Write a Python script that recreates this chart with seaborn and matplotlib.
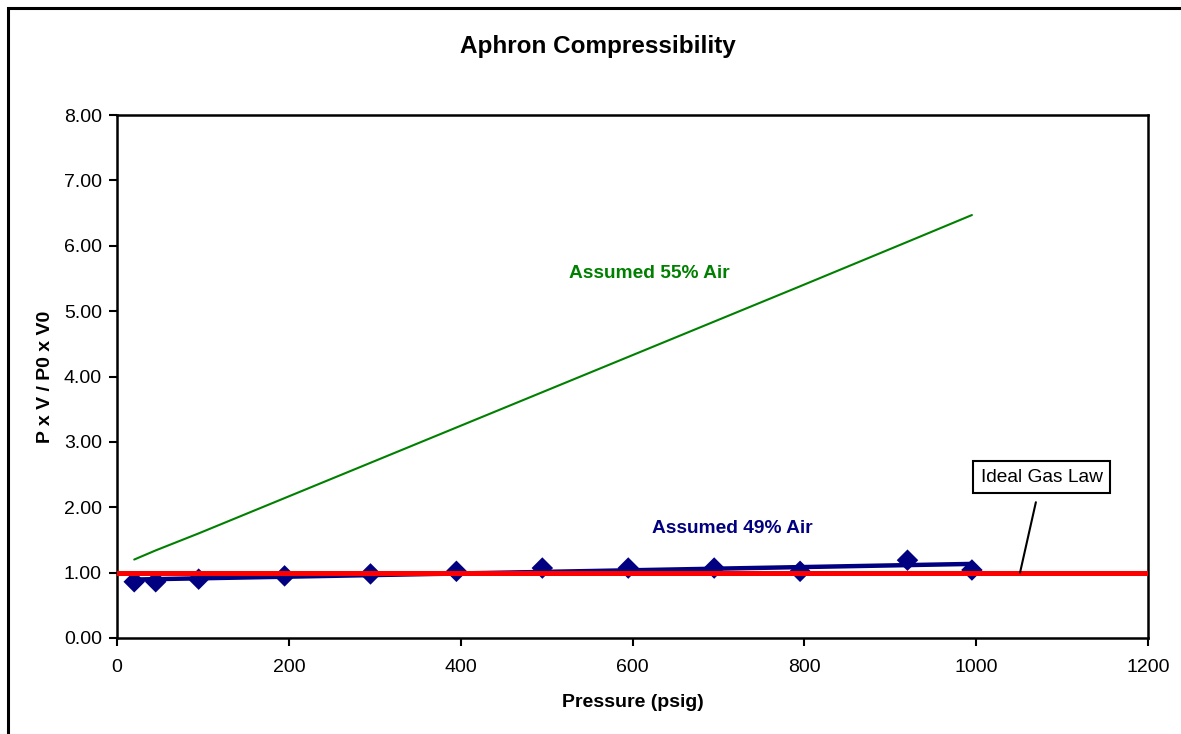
import numpy as np
import pandas as pd
import seaborn as sns
import matplotlib.pyplot as plt
from matplotlib.patches import Rectangle

# measured points (Assumed 49% Air)
pressure = [20, 45, 95, 195, 295, 395, 495, 595, 695, 795, 920, 995]
ratio_49 = [0.86, 0.86, 0.90, 0.95, 0.98, 1.02, 1.07, 1.07, 1.07, 1.02, 1.19, 1.04]

# model curve (Assumed 55% Air)
ratio_55 = [1.20, 1.34, 1.60, 2.14, 2.68, 3.22, 3.76, 4.30, 4.84, 5.38, 6.06, 6.47]

# ideal gas law reference
ideal_x = [0, 1200]
ideal_y = [1.0, 1.0]

sns.set_style("ticks")
plt.rcParams['font.family'] = ['Liberation Sans', 'DejaVu Sans']
plt.rcParams['text.color'] = 'black'
plt.rcParams['axes.labelcolor'] = 'black'
plt.rcParams['xtick.color'] = 'black'
plt.rcParams['ytick.color'] = 'black'

fig = plt.figure(figsize=(11.81, 7.34), dpi=100)
ax = fig.add_axes([0.0991, 0.1308, 0.8730, 0.7125])

df = pd.DataFrame({'pressure': pressure, 'r49': ratio_49, 'r55': ratio_55})

# green line
sns.lineplot(data=df, x='pressure', y='r55', color='#008000', linewidth=1.5, ax=ax, zorder=2)

# measured points with linear trendline
sns.regplot(data=df, x='pressure', y='r49', ci=None, truncate=True, ax=ax,
            marker='D', color='#000080',
            scatter_kws={'s': 120, 'zorder': 3, 'edgecolors': 'none', 'alpha': 1},
            line_kws={'linewidth': 3.2, 'zorder': 3})

# ideal gas law line
sns.lineplot(x=ideal_x, y=ideal_y, color='#FF0000', linewidth=3.6, ax=ax, zorder=4)

ax.set_xlim(0, 1200)
ax.set_ylim(0, 8)
ax.set_xticks(np.arange(0, 1201, 200))
ax.set_yticks(np.arange(0, 8.01, 1))
ax.set_yticklabels([f"{v:.2f}" for v in np.arange(0, 8.01, 1)])
ax.tick_params(axis='both', labelsize=14, length=6, width=1.5, direction='out', colors='black')
ax.tick_params(axis='x', pad=9)
ax.tick_params(axis='y', pad=5)
for s in ax.spines.values():
    s.set_visible(True)
    s.set_linewidth(1.8)
    s.set_color('black')

ax.set_xlabel('Pressure (psig)', fontsize=14, fontweight='bold')
ax.set_ylabel('P x V / P0 x V0', fontsize=14, fontweight='bold')
ax.xaxis.set_label_coords(0.5, -0.108)
ax.yaxis.set_label_coords(-0.061, 0.5)

fig.text(0.506, 0.937, 'Aphron Compressibility', fontsize=17.5, fontweight='bold',
         ha='center', va='center')

ax.text(619, 5.58, 'Assumed 55% Air', color='#008000', fontsize=13.8, fontweight='bold',
        ha='center', va='center')
ax.text(716, 1.67, 'Assumed 49% Air', color='#000080', fontsize=13.8, fontweight='bold',
        ha='center', va='center')
ax.annotate('Ideal Gas Law', xy=(1051, 1.0), xytext=(1076, 2.46), fontsize=13.8,
            ha='center', va='center', annotation_clip=False,
            bbox=dict(boxstyle='square,pad=0.4', fc='white', ec='black', lw=1.5),
            arrowprops=dict(arrowstyle='-', color='black', lw=1.5, shrinkA=6, shrinkB=0),
            zorder=5)

# outer chart frame
fig.patches.append(Rectangle((8 / 1181, -0.2), 1.2, 1.2 - 8 / 734, transform=fig.transFigure,
                             fill=False, ec='black', lw=2.2, zorder=0))

fig.savefig('out.png', dpi=100)
